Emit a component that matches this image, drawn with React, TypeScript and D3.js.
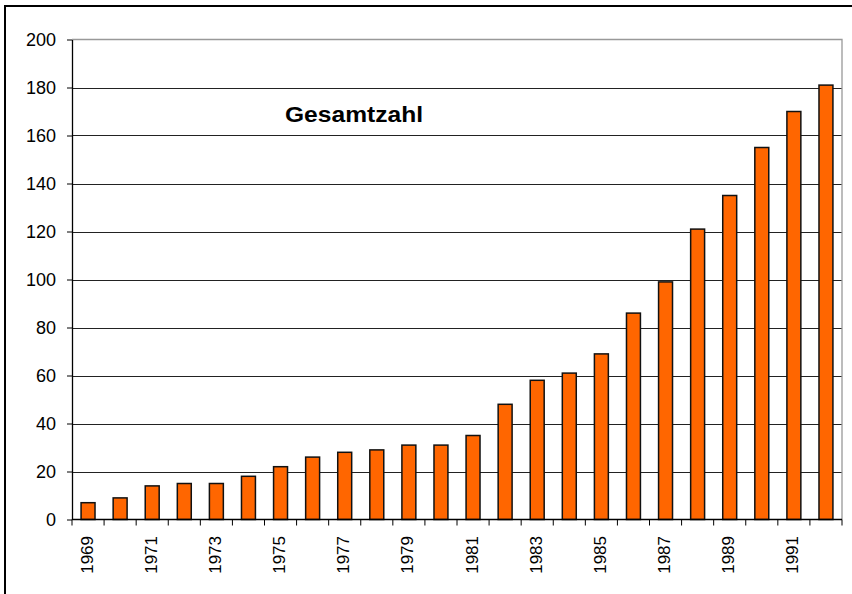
import { useEffect, useRef } from 'react';
import * as d3 from 'd3';

const years = [
  '1969', '1970', '1971', '1972', '1973', '1974', '1975', '1976', '1977', '1978', '1979', '1980',
  '1981', '1982', '1983', '1984', '1985', '1986', '1987', '1988', '1989', '1990', '1991', '1992',
];
const values = [7, 9, 14, 15, 15, 18, 22, 26, 28, 29, 31, 31, 35, 48, 58, 61, 69, 86, 99, 121, 135, 155, 170, 181];
const yTicks = [0, 20, 40, 60, 80, 100, 120, 140, 160, 180, 200];
const title = 'Gesamtzahl';

export default function App() {
  const ref = useRef<SVGSVGElement>(null);

  useEffect(() => {
    if (!ref.current) return;
    const svg = d3.select(ref.current);
    svg.selectAll('*').remove();

    const font = 'Arial, "Liberation Sans", sans-serif';
    const left = 72, right = 842, top = 39.5, bottom = 519.5;

    const x = d3.scaleBand<string>().domain(years).range([left, right]).paddingInner(0).paddingOuter(0);
    const y = d3.scaleLinear().domain([0, 200]).range([bottom, top]);
    const barW = x.bandwidth() / 2.3;

    // outer frame (right and bottom run off the picture)
    svg.append('rect')
      .attr('x', 5).attr('y', 6).attr('width', 900).attr('height', 700)
      .attr('fill', 'white').attr('stroke', 'black').attr('stroke-width', 2);

    // gridlines
    svg.append('g').selectAll('line')
      .data(yTicks.filter(t => t > 0 && t < 200))
      .enter().append('line')
      .attr('x1', left).attr('x2', right)
      .attr('y1', d => Math.round(y(d)) + 0.5).attr('y2', d => Math.round(y(d)) + 0.5)
      .attr('stroke', '#222').attr('stroke-width', 1);

    // plot area border top/right
    svg.append('path')
      .attr('d', `M${left},${top}H${right}V${bottom}`)
      .attr('fill', 'none').attr('stroke', '#999').attr('stroke-width', 1.3);

    // bars
    svg.append('g').selectAll('rect')
      .data(values)
      .enter().append('rect')
      .attr('x', (d, i) => (x(years[i]) as number) + (x.bandwidth() - barW) / 2)
      .attr('y', d => y(d))
      .attr('width', barW)
      .attr('height', d => y(0) - y(d))
      .attr('fill', '#ff6600')
      .attr('stroke', '#111').attr('stroke-width', 1.5);

    // y axis
    const yAxis = svg.append('g').attr('transform', `translate(${left},0)`)
      .call(d3.axisLeft(y).tickValues(yTicks).tickSize(5).tickPadding(11).tickSizeOuter(0));
    yAxis.select('.domain').attr('stroke', 'black').attr('stroke-width', 1.3);
    yAxis.selectAll('.tick line').attr('stroke', 'black');
    yAxis.selectAll('text')
      .attr('font-family', font).attr('font-size', 18).attr('fill', 'black');

    // x axis
    svg.append('line')
      .attr('x1', left).attr('x2', right).attr('y1', bottom).attr('y2', bottom)
      .attr('stroke', 'black').attr('stroke-width', 1.3);
    const edges = years.map(yr => x(yr) as number).concat([right]);
    svg.append('g').selectAll('line')
      .data(edges)
      .enter().append('line')
      .attr('x1', d => d).attr('x2', d => d)
      .attr('y1', bottom).attr('y2', bottom + 6)
      .attr('stroke', 'black').attr('stroke-width', 1);

    svg.append('g').selectAll('text')
      .data(years.filter((d, i) => i % 2 === 0))
      .enter().append('text')
      .attr('transform', d => `translate(${(x(d) as number) + x.bandwidth() / 2 - 1},536) rotate(-90)`)
      .attr('text-anchor', 'end')
      .attr('dominant-baseline', 'central')
      .attr('font-family', font).attr('font-size', 17).attr('fill', 'black')
      .text(d => d);

    // title inside plot
    svg.append('text')
      .attr('x', 285).attr('y', 122)
      .attr('font-family', font).attr('font-size', 22).attr('font-weight', 'bold')
      .attr('textLength', 138).attr('lengthAdjust', 'spacingAndGlyphs')
      .text(title);
  }, []);

  return (
    <svg ref={ref} width={852} height={594}
      style={{ position: 'absolute', left: 0, top: 0, background: 'white' }} />
  );
}
